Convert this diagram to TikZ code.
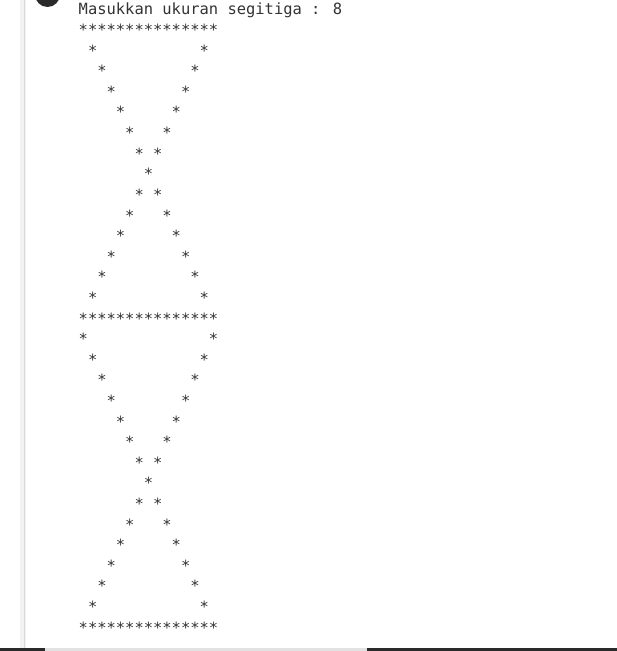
\documentclass[tikz,border=0pt]{standalone}
\usepackage{fontspec}
\newfontfamily\consfont{DejaVu Sans Mono}
\definecolor{txt}{HTML}{333333}
\definecolor{darkbar}{HTML}{2A2A2A}
\definecolor{lightbar}{HTML}{E2E2E2}
\newcommand\gp[1]{\hskip#1\fontcharwd\font`\*\relax}
\begin{document}
\begin{tikzpicture}[x=1bp,y=-1bp,
  rowtxt/.style={anchor=base west, inner sep=0pt,
    font=\consfont\fontsize{15.45bp}{18bp}\selectfont, text=txt}]
\useasboundingbox (0,0) rectangle (617,651);
\fill[white] (0,0) rectangle (617,651);
% left rail
\fill[gray!10] (20,0) rectangle (26,648);
\fill[gray!30] (23.5,0) rectangle (25,648);
% dark circle at top
\fill[darkbar] (47.5,-5.5) circle (12.5bp);
% bottom bar
\fill[darkbar] (0,648) rectangle (45,651);
\fill[lightbar] (45,648) rectangle (367,651);
\fill[darkbar] (367,648) rectangle (617,651);
% header
\node[rowtxt] (hdr) at (78.5,15) {Masukkan ukuran segitiga : 8};
\node[rowtxt] (top1) at (78.5,35.6) {***************};
\foreach \k in {1,...,13}{
  \pgfmathtruncatemacro\a{7-abs(7-\k)}
  \pgfmathtruncatemacro\g{13-2*\a}
  \pgfmathsetmacro\yy{15+20.6*(\k+1)}
  \ifnum\a=7
    \node[rowtxt] (a\k) at (78.5,\yy) {\gp{\a}*};
  \else
    \node[rowtxt] (a\k) at (78.5,\yy) {\gp{\a}*\gp{\g}*};
  \fi
}
\node[rowtxt] (mid) at (78.5,{15+20.6*15}) {***************};
\foreach \k in {0,...,13}{
  \pgfmathtruncatemacro\a{7-abs(7-\k)}
  \pgfmathtruncatemacro\g{13-2*\a}
  \pgfmathsetmacro\yy{15+20.6*(\k+16)}
  \ifnum\a=7
    \node[rowtxt] (b\k) at (78.5,\yy) {\gp{\a}*};
  \else
    \node[rowtxt] (b\k) at (78.5,\yy) {\gp{\a}*\gp{\g}*};
  \fi
}
\node[rowtxt] (bot) at (78.5,{15+20.6*30}) {***************};
\end{tikzpicture}
\end{document}
